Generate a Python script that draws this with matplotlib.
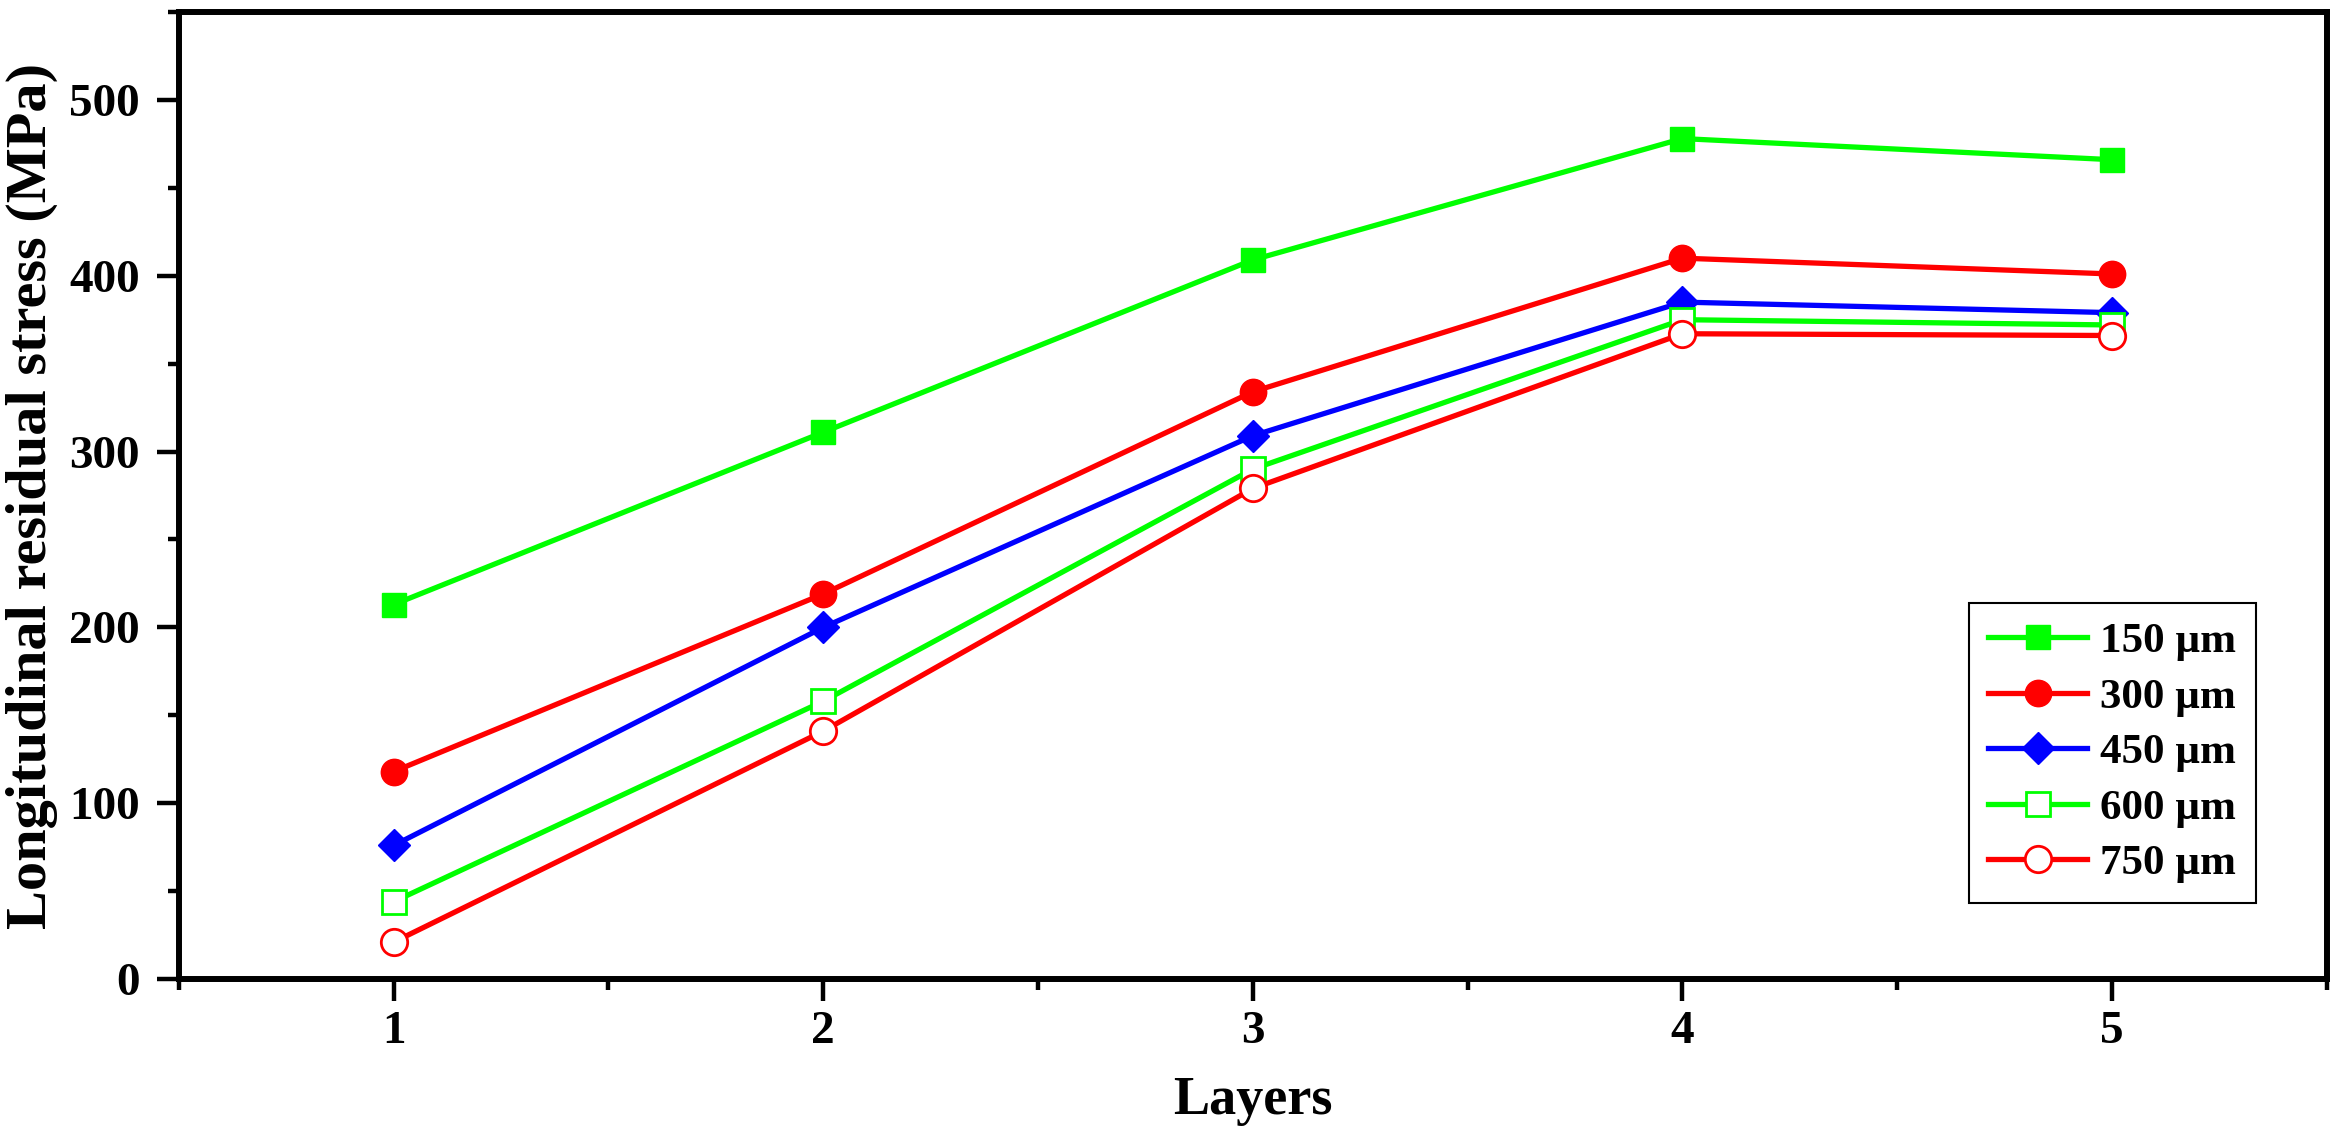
import matplotlib
matplotlib.use("Agg")
import matplotlib.pyplot as plt
from matplotlib.ticker import MultipleLocator

# data
layers = [1, 2, 3, 4, 5]
s150 = [213, 311, 409, 478, 466]
s300 = [118, 219, 334, 410, 401]
s450 = [76, 200, 309, 385, 379]
s600 = [44, 158, 290, 375, 372]
s750 = [21, 141, 279, 367, 366]
labels = ["150 µm", "300 µm", "450 µm", "600 µm", "750 µm"]

plt.rcParams["font.family"] = ["Liberation Serif", "DejaVu Serif"]
plt.rcParams["font.weight"] = "bold"

fig = plt.figure(figsize=(23.36, 11.42), dpi=100)
fig.subplots_adjust(left=0.0766, right=0.996, top=0.9895, bottom=0.1427)
ax = fig.add_subplot(111)

lw = 3.8
ax.plot(layers, s150, color="#00FF00", lw=lw, marker="s", ms=17, label=labels[0])
ax.plot(layers, s300, color="#FF0000", lw=lw, marker="o", ms=19, label=labels[1])
ax.plot(layers, s450, color="#0000FF", lw=lw, marker="D", ms=16, label=labels[2])
ax.plot(layers, s600, color="#00FF00", lw=lw, marker="s", ms=17,
        mfc="white", mew=2, label=labels[3])
ax.plot(layers, s750, color="#FF0000", lw=lw, marker="o", ms=19,
        mfc="white", mew=2, label=labels[4])

ax.set_xlim(0.5, 5.5)
ax.set_ylim(0, 550)
ax.xaxis.set_major_locator(MultipleLocator(1))
ax.xaxis.set_minor_locator(MultipleLocator(0.5))
ax.yaxis.set_major_locator(MultipleLocator(100))
ax.yaxis.set_minor_locator(MultipleLocator(50))

for sp in ax.spines.values():
    sp.set_linewidth(4.3)
ax.tick_params(which="major", direction="out", length=16, width=3.2, labelsize=34, pad=7)
ax.tick_params(which="minor", direction="out", length=8, width=3.2)
ax.tick_params(axis="y", which="major", pad=12)
for t in ax.get_xticklabels() + ax.get_yticklabels():
    t.set_fontweight("bold")

ax.set_xlabel("Layers", fontsize=39, fontweight="bold")
ax.set_ylabel("Longitudinal residual stress (MPa)", fontsize=42, fontweight="bold")
ax.xaxis.set_label_coords(0.5, -0.1)
ax.yaxis.set_label_coords(-0.0563, 0.5)

leg = ax.legend(loc="lower right", bbox_to_anchor=(0.967, 0.079), borderaxespad=0,
                prop={"weight": "bold", "size": 31}, fancybox=False,
                edgecolor="black", framealpha=1, handlelength=2.3,
                handletextpad=0.3, labelspacing=0.38, borderpad=0.45)
leg.get_frame().set_linewidth(1.5)

plt.savefig("out.png", dpi=100)
